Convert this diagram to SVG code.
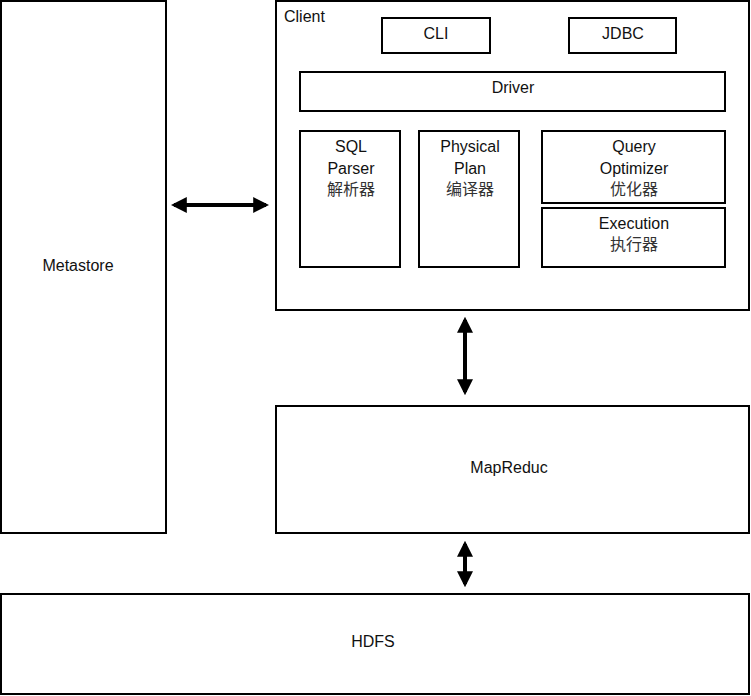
<svg xmlns="http://www.w3.org/2000/svg" width="751" height="696" viewBox="0 0 751 696">
<style>
.box{fill:#fff;stroke:#000;stroke-width:2}
.t{font-family:"Liberation Sans","Noto Sans CJK SC",sans-serif;font-size:16px;fill:#111;text-anchor:middle;dominant-baseline:central}
.c{fill:#333}
.con{stroke:#000;stroke-width:4;fill:none}
</style>
<defs>
<marker id="ah" viewBox="0 0 10 10" refX="8" refY="5" markerWidth="4" markerHeight="4" orient="auto-start-reverse" markerUnits="strokeWidth">
<path d="M0,0 L10,5 L0,10 z" fill="#000"/>
</marker>
</defs>
<rect width="751" height="696" fill="#fff"/>
<g id="metastore"><rect class="box" x="1" y="1" width="165" height="532"/><text class="t" x="78" y="265">Metastore</text></g>
<g id="client"><rect class="box" x="276" y="1" width="473" height="309"/><text class="t" x="284" y="16" style="text-anchor:start">Client</text></g>
<g id="cli"><rect class="box" x="382" y="18" width="108" height="35"/><text class="t" x="436" y="33">CLI</text></g>
<g id="jdbc"><rect class="box" x="569" y="18" width="107" height="35"/><text class="t" x="623" y="33">JDBC</text></g>
<g id="driver"><rect class="box" x="300" y="72" width="425" height="39"/><text class="t" x="513" y="87">Driver</text></g>
<g id="parser"><rect class="box" x="300" y="131" width="100" height="136"/><text class="t" x="351" y="146">SQL</text><text class="t" x="351" y="168">Parser</text><text class="t c" x="351" y="189">解析器</text></g>
<g id="plan"><rect class="box" x="419" y="131" width="100" height="136"/><text class="t" x="470" y="146">Physical</text><text class="t" x="470" y="168">Plan</text><text class="t c" x="470" y="189">编译器</text></g>
<g id="optimizer"><rect class="box" x="542" y="131" width="183" height="72"/><text class="t" x="634" y="146">Query</text><text class="t" x="634" y="168">Optimizer</text><text class="t c" x="634" y="189">优化器</text></g>
<g id="execution"><rect class="box" x="542" y="208" width="183" height="59"/><text class="t" x="634" y="223">Execution</text><text class="t c" x="634" y="244">执行器</text></g>
<g id="mapreduce"><rect class="box" x="276" y="406" width="473" height="127"/><text class="t" x="509" y="467">MapReduc</text></g>
<g id="hdfs"><rect class="box" x="1" y="594" width="748" height="100"/><text class="t" x="373" y="641">HDFS</text></g>
<g id="connectors">
<line class="con" x1="174" y1="205" x2="266" y2="205" marker-start="url(#ah)" marker-end="url(#ah)"/>
<line class="con" x1="465" y1="320" x2="465" y2="392" marker-start="url(#ah)" marker-end="url(#ah)"/>
<line class="con" x1="465" y1="544" x2="465" y2="584" marker-start="url(#ah)" marker-end="url(#ah)"/>
</g>
</svg>
